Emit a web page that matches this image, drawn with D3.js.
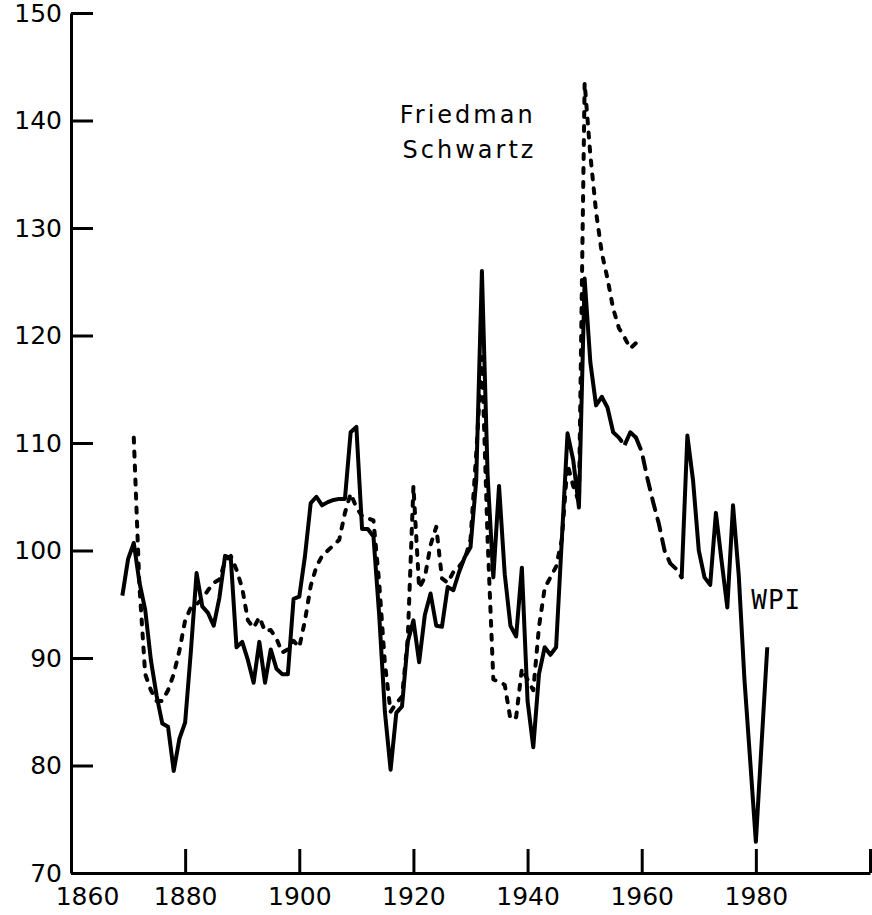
<!DOCTYPE html>
<meta charset="utf-8">
<style>
body {
  margin: 0;
  background: #fff;
}
svg {
  display: block;
  background: #fff;
}
.axis path, .axis line {
  stroke: #000;
  stroke-width: 3px;
}
.axis text {
  font-family: "DejaVu Sans", sans-serif;
  font-size: 25px;
  fill: #000;
}
.series {
  fill: none;
  stroke: #000;
  stroke-width: 4px;
  stroke-linejoin: round;
}
.fs {
  stroke-dasharray: 5, 9;
  stroke-linecap: round;
}
.longdash {
  stroke-dasharray: 12, 9;
  stroke-linecap: round;
}
.note {
  font-family: "DejaVu Sans", sans-serif;
  font-size: 24px;
  letter-spacing: 3px;
  fill: #000;
}
.wpi-label {
  font-family: "DejaVu Sans Mono", monospace;
  font-size: 26px;
  letter-spacing: 1px;
  fill: #000;
}
</style>
<body>
<script src="https://d3js.org/d3.v7.min.js"></script>
<script>

// WPI, annual 1869-1982
var wpiStart = 1869;
var wpiValues = [
  95.8, 99.2, 100.7, 97.0, 94.5, 89.8, 86.5, 83.9, 83.6, 79.5,   // 1869-1878
  82.5, 84.0, 90.6, 97.9, 94.8, 94.2, 93.0, 95.6, 99.5, 99.3,    // 1879-1888
  91.0, 91.5, 89.8, 87.7, 91.5, 87.7, 90.8, 89.0, 88.5, 88.5,    // 1889-1898
  95.5, 95.7, 99.5, 104.4, 105.0, 104.2, 104.5, 104.7, 104.8, 104.8, // 1899-1908
  111.0, 111.5, 102.0, 102.0, 101.3, 94.0, 85.0, 79.6, 84.9, 85.5,   // 1909-1918
  91.5, 93.5, 89.6, 94.0, 96.0, 93.0, 92.9, 96.6, 96.3, 98.0,    // 1919-1928
  99.4, 100.3, 106.5, 126.0, 107.0, 97.5, 106.0, 97.8, 93.0, 92.0,   // 1929-1938
  98.4, 86.0, 81.7, 88.5, 91.0, 90.3, 91.0, 101.0, 110.9, 108.4, // 1939-1948
  104.0, 125.3, 117.5, 113.5, 114.3, 113.3, 111.0, 110.5, 109.8, 111.0, // 1949-1958
  110.5, 109.2, 106.7, 104.5, 102.5, 100.0, 98.8, 98.3, 97.5, 110.7,    // 1959-1968
  106.5, 100.0, 97.5, 96.8, 103.5, 99.0, 94.7, 104.2, 97.7, 88.0,      // 1969-1978
  80.5, 72.9, 82.0, 91.0                                              // 1979-1982
];

// Friedman-Schwartz, annual 1871-1959
var fsStart = 1871;
var fsValues = [
  110.5, 96.6, 88.5, 87.0, 86.0, 86.0, 87.0, 88.5, 90.7, 93.5,  // 1871-1880
  94.7, 95.0, 95.5, 96.3, 97.0, 97.3, 99.0, 99.5, 98.2, 96.5,   // 1881-1890
  93.5, 92.8, 93.8, 92.5, 92.6, 91.8, 90.5, 90.8, 91.6, 91.0,   // 1891-1900
  93.5, 96.7, 98.5, 99.5, 100.0, 100.5, 101.0, 103.5, 105.3, 104.0, // 1901-1910
  103.2, 103.0, 102.8, 97.0, 89.5, 85.0, 85.8, 86.4, 91.7, 106.0,   // 1911-1920
  96.5, 97.5, 100.5, 102.2, 97.4, 97.0, 98.0, 98.5, 99.2, 101.0,    // 1921-1930
  109.0, 118.0, 101.0, 88.0, 87.8, 87.5, 84.3, 84.5, 89.0, 88.0,    // 1931-1940
  87.0, 92.9, 96.5, 97.5, 98.5, 101.0, 108.0, 106.0, 104.5, 143.5,  // 1941-1950
  136.8, 131.5, 127.7, 125.3, 122.5, 120.7, 119.8, 118.8, 119.3     // 1951-1959
];

var xTicks = [1860, 1880, 1900, 1920, 1940, 1960, 1980, 2000];
var yTicks = [70, 80, 90, 100, 110, 120, 130, 140, 150];

// stretches of the WPI drawn in long dashes
var wpiDashed = [[1955, 1957], [1959, 1967]];

var width = 872, height = 915;

var svg = d3.select("body").append("svg")
  .attr("width", width)
  .attr("height", height);

var x = d3.scaleLinear().domain([1860, 2000]).range([71, 870]);
var y = d3.scaleLinear().domain([70, 150]).range([873, 13]);

var wpi = wpiValues.map(function(v, i) { return {year: wpiStart + i, value: v}; });
var fs = fsValues.map(function(v, i) { return {year: fsStart + i, value: v}; });

var line = d3.line()
  .x(function(d) { return x(d.year); })
  .y(function(d) { return y(d.value); });

// axes
var yAxis = d3.axisLeft(y)
  .tickValues(yTicks)
  .tickSize(-22)
  .tickSizeOuter(0)
  .tickPadding(9)
  .tickFormat(d3.format("d"));

var xAxis = d3.axisBottom(x)
  .tickValues(xTicks)
  .tickSize(-24)
  .tickSizeOuter(0)
  .tickPadding(14)
  .tickFormat(function(d) { return d === 2000 ? "" : d; });

var gy = svg.append("g")
  .attr("class", "axis")
  .attr("transform", "translate(" + x(1860) + ",0)")
  .call(yAxis);
gy.attr("font-family", null).attr("font-size", null);

var gx = svg.append("g")
  .attr("class", "axis")
  .attr("transform", "translate(0," + y(70) + ")")
  .call(xAxis);
gx.attr("font-family", null).attr("font-size", null);

// first year label sits a little right of the corner
gx.selectAll(".tick text").filter(function(d) { return d === 1860; })
  .attr("dx", 16);

// Friedman-Schwartz
svg.append("path")
  .datum(fs)
  .attr("class", "series fs")
  .attr("d", line);

// WPI, split into solid and long-dash stretches
var cuts = [wpiStart];
wpiDashed.forEach(function(s) { cuts.push(s[0], s[1]); });
cuts.push(wpiStart + wpiValues.length - 1);

for (var i = 0; i < cuts.length - 1; i++) {
  var a = cuts[i], b = cuts[i + 1];
  var part = wpi.filter(function(d) { return d.year >= a && d.year <= b; });
  svg.append("path")
    .datum(part)
    .attr("class", "series" + (i % 2 === 1 ? " longdash" : ""))
    .attr("d", line);
}

// labels
svg.append("text").attr("class", "note")
  .attr("x", x(1917.6)).attr("y", y(139.8))
  .text("Friedman");
svg.append("text").attr("class", "note")
  .attr("x", x(1918.1)).attr("y", y(136.5))
  .text("Schwartz");
svg.append("text").attr("class", "wpi-label")
  .attr("x", x(1979.2)).attr("y", y(94.6))
  .text("WPI");

</script>
</body>
